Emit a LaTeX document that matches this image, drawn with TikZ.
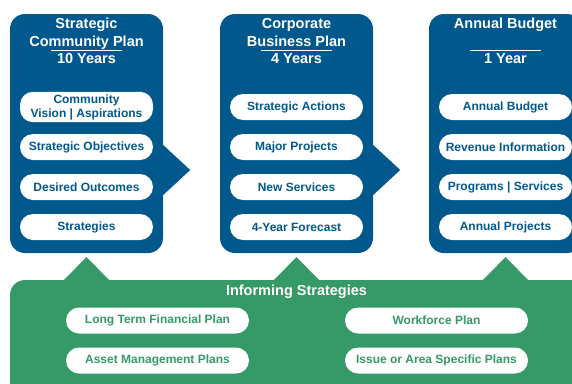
\documentclass[tikz,border=0pt]{standalone}
\usepackage{fontspec}
\setmainfont{Liberation Sans}
\usetikzlibrary{calc, positioning}
\definecolor{planblue}{HTML}{00588C}
\definecolor{infogreen}{HTML}{359A68}

\begin{document}
\begin{tikzpicture}[x=1pt, y=-1pt,
  plan/.style={fill=planblue, rounded corners=15pt, inner sep=0pt},
  info/.style={fill=infogreen, rounded corners=15pt, inner sep=0pt},
  title/.style={text=white, font=\fontsize{14.5}{18}\selectfont\bfseries, align=center, inner sep=1pt},
  years/.style={title, minimum width=70pt, inner ysep=3pt},
  pill/.style={fill=white, rounded corners=13pt, minimum width=133pt, minimum height=26pt,
    align=center, inner sep=2.5pt, font=\fontsize{12}{14}\selectfont\bfseries},
  bluepill/.style={pill, text=planblue},
  greenpill/.style={pill, text=infogreen, minimum width=183pt}]
  \clip (0,0) rectangle (572,383);

  % the three plans
  \node[plan, minimum width=153pt, minimum height=239pt] (scp) at (86.5,133.5) {};
  \node[plan, minimum width=153pt, minimum height=239pt] (cbp) at (296.5,133.5) {};
  \node[plan, minimum width=153pt, minimum height=239pt] (ab) at (505.5,133.5) {};
  \foreach \b in {scp, cbp}
    \fill[planblue] ($(\b.east)+(0,11.5)$) -- ($(\b.east)+(27,36.5)$) -- ($(\b.east)+(0,61.5)$) -- cycle;

  % informing strategies
  \node[info, minimum width=620pt, minimum height=140pt] (inf) at (320,350) {};
  \foreach \b in {scp, cbp, ab}
    \fill[infogreen] ($(\b.south |- inf.north)+(-23,0.5)$) -- ($(\b.south)+(0,4)$)
      -- ($(\b.south |- inf.north)+(23,0.5)$) -- cycle;

  % headings
  \node[title, anchor=north] (scp-t) at (86.5,17) {Strategic\\Community Plan};
  \node[years] (scp-y) at (86.5,59) {10 Years};
  \node[title, anchor=north] (cbp-t) at (296.5,17) {Corporate\\Business Plan};
  \node[years] (cbp-y) at (296.5,59) {4 Years};
  \node[title, anchor=north] (ab-t) at (505.5,17) {Annual Budget};
  \node[years] (ab-y) at (505.5,59) {1 Year};
  \foreach \b in {scp, cbp, ab}
    \draw[white, line width=1.2pt] (\b-y.north west) -- (\b-y.north east);
  \node[title] (inf-t) at (296.5,292) {Informing Strategies};

  % plan contents
  \foreach \t [count=\i] in {{Community\\Vision | Aspirations}, Strategic Objectives, Desired Outcomes, Strategies}
    \node[bluepill] (scp-\i) at (86.5,{107+40*(\i-1)}) {\t};
  \foreach \t [count=\i] in {Strategic Actions, Major Projects, New Services, 4-Year Forecast}
    \node[bluepill] (cbp-\i) at (296.5,{107+40*(\i-1)}) {\t};
  \foreach \t [count=\i] in {Annual Budget, Revenue Information, Programs | Services, Annual Projects}
    \node[bluepill] (ab-\i) at (505.5,{107+40*(\i-1)}) {\t};

  \node[greenpill] (inf-1) at (157.5,320.5) {Long Term Financial Plan};
  \node[greenpill] (inf-2) at (157.5,360.5) {Asset Management Plans};
  \node[greenpill] (inf-3) at (436.5,320.5) {Workforce Plan};
  \node[greenpill] (inf-4) at (436.5,360.5) {Issue or Area Specific Plans};
\end{tikzpicture}
\end{document}
